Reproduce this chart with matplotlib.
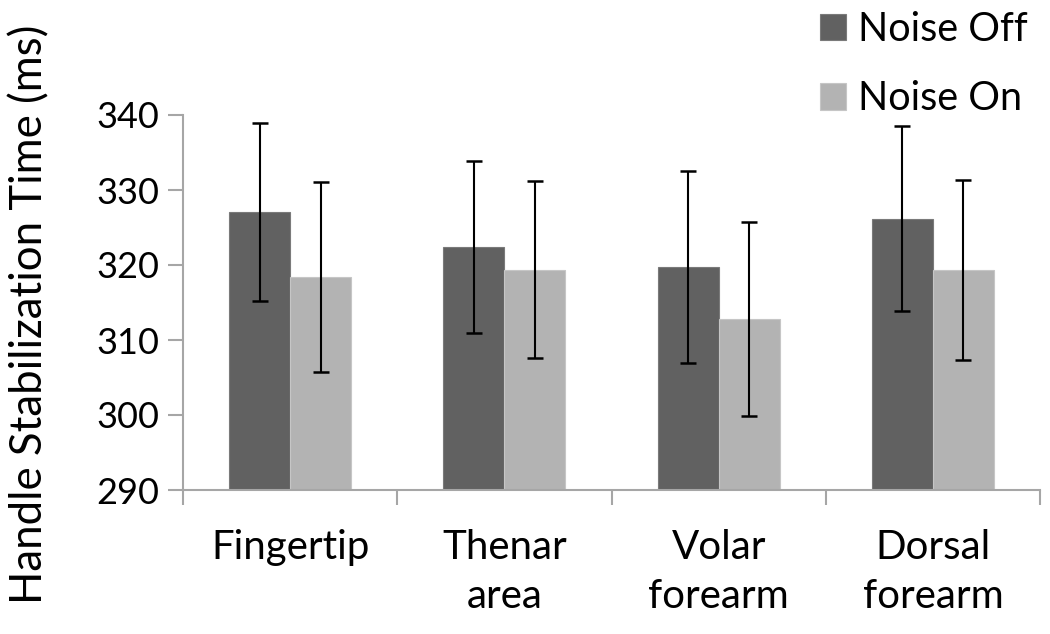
import matplotlib
matplotlib.use("Agg")
import matplotlib.pyplot as plt
import numpy as np

categories = ["Fingertip", "Thenar\narea", "Volar\nforearm", "Dorsal\nforearm"]
series_names = ["Noise Off", "Noise On"]
noise_off = [327.1, 322.4, 319.7, 326.2]
noise_off_err = [11.9, 11.5, 12.8, 12.3]
noise_on = [318.4, 319.4, 312.8, 319.4]
noise_on_err = [12.7, 11.8, 12.9, 12.0]
yticks = [290, 300, 310, 320, 330, 340]

plt.rcParams['font.family'] = ['Lato', 'DejaVu Sans']

fig = plt.figure(figsize=(10.5, 6.34), dpi=100)
ax = fig.add_axes([183/1050, 1-490/634, (1040-183)/1050, (490-115)/634])

x = np.arange(len(categories))
w = 0.285
axis_col = "#a6a6a6"
b1 = ax.bar(x - w/2, noise_off, w, color="#616161", edgecolor="#7a7a7a",
            linewidth=0.8, label=series_names[0], zorder=2)
b2 = ax.bar(x + w/2, noise_on, w, color="#b3b3b3", edgecolor="#c6c6c6",
            linewidth=0.8, label=series_names[1], zorder=2)
ax.errorbar(x - w/2, noise_off, yerr=noise_off_err, fmt="none", ecolor="black",
            elinewidth=1.5, capsize=5.8, capthick=1.8, zorder=3)
ax.errorbar(x + w/2, noise_on, yerr=noise_on_err, fmt="none", ecolor="black",
            elinewidth=1.5, capsize=5.8, capthick=1.8, zorder=3)

ax.set_ylim(290, 340)
ax.set_xlim(-0.5, len(categories) - 0.5)
ax.set_yticks(yticks)
ax.set_yticklabels([str(v) for v in yticks], fontsize=26)

ax.set_xticks(np.arange(len(categories) + 1) - 0.5)
ax.set_xticklabels([])
ax.set_xticks(x, minor=True)
ax.set_xticklabels(categories, minor=True, fontsize=29, linespacing=1.42)
ax.tick_params(axis='x', which='minor', length=0, pad=28)
ax.tick_params(axis='x', which='major', length=11, width=1.5, color=axis_col, direction='out')
ax.tick_params(axis='y', length=11, width=1.5, color=axis_col, direction='out', pad=6)

for s in ["top", "right"]:
    ax.spines[s].set_visible(False)
for s in ["left", "bottom"]:
    ax.spines[s].set_color(axis_col)
    ax.spines[s].set_linewidth(1.5)
ax.spines["left"].set_bounds(290, 340)

fig.text(30/1050, 1-314/634, "Handle Stabilization Time (ms)", rotation=90,
         ha="center", va="center", fontsize=31.5)

leg = fig.legend(handles=[b1, b2], labels=series_names, loc="upper left",
                 bbox_to_anchor=(820/1050, 1-11/634), frameon=False, fontsize=28.5,
                 handlelength=0.65, handleheight=0.65, handletextpad=0.3,
                 labelspacing=0.82, borderaxespad=0, borderpad=0)

fig.savefig("out.png", dpi=100)
